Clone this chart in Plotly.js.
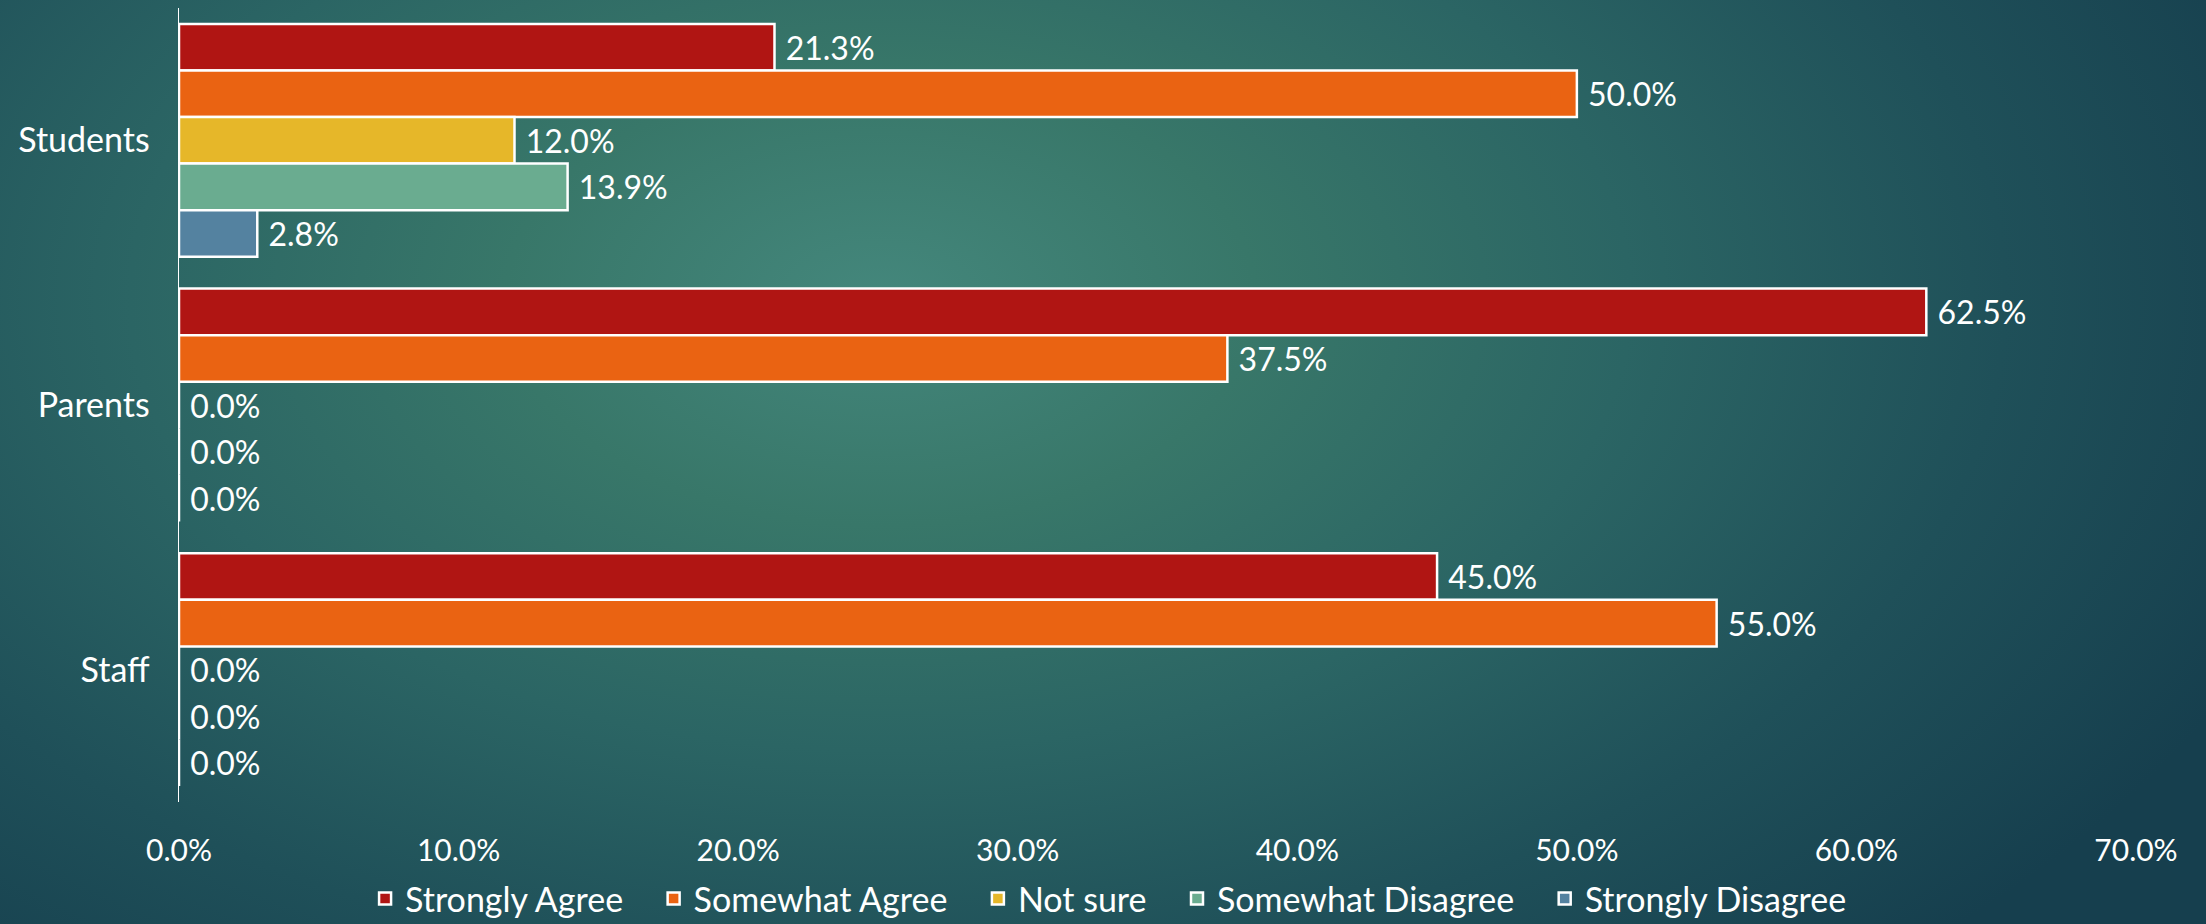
<!DOCTYPE html>
<html>
<head>
<meta charset="utf-8">
<script src="https://cdn.plot.ly/plotly-3.0.1.min.js"></script>
<style>
  html, body { margin: 0; padding: 0; width: 2206px; height: 924px; overflow: hidden; }
  body {
    background:
      radial-gradient(ellipse 1500px 900px at 880px 300px,
        #44877c 0%, #387769 25%, #2b6564 50%, #1f5059 75%, #163f4e 100%);
  }
  #chart { width: 2206px; height: 924px; }
</style>
</head>
<body>
<div id="chart"></div>
<script>
const categories = ["Students", "Parents", "Staff"];
const seriesNames = ["Strongly Agree", "Somewhat Agree", "Not sure", "Somewhat Disagree", "Strongly Disagree"];
const stronglyAgree = [0.213, 0.625, 0.45];
const somewhatAgree = [0.50, 0.375, 0.55];
const notSure = [0.12, 0.0, 0.0];
const somewhatDisagree = [0.139, 0.0, 0.0];
const stronglyDisagree = [0.028, 0.0, 0.0];
const xTickVals = [0, 0.1, 0.2, 0.3, 0.4, 0.5, 0.6, 0.7];

const seriesValues = [stronglyAgree, somewhatAgree, notSure, somewhatDisagree, stronglyDisagree];
const colors = ["#B01513", "#EA6312", "#E6B729", "#6AAC90", "#5482A0"];

const FONT = "Lato, 'Liberation Sans', sans-serif";
const LEGEND_SPACER = "\u2003";

const traces = seriesValues.map((vals, i) => ({
  type: "bar",
  orientation: "h",
  name: seriesNames[i] + (i < seriesNames.length - 1 ? LEGEND_SPACER : ""),
  y: categories,
  x: vals,
  marker: { color: colors[i], line: { color: "#ffffff", width: 2.5 } },
  texttemplate: "\u00a0%{x:.1%}",
  textposition: "outside",
  constraintext: "none",
  cliponaxis: false,
  textfont: { color: "#ffffff", size: 32, family: FONT },
  hoverinfo: "skip"
}));

const layout = {
  width: 2206,
  height: 924,
  paper_bgcolor: "rgba(0,0,0,0)",
  plot_bgcolor: "rgba(0,0,0,0)",
  margin: { l: 179, r: 70, t: 8, b: 122, pad: 0, autoexpand: false },
  barmode: "group",
  bargap: 0.12,
  bargroupgap: 0,
  font: { family: FONT, color: "#ffffff", size: 30 },
  showlegend: true,
  legend: {
    orientation: "h",
    x: 0.475, xanchor: "center",
    y: -0.122, yanchor: "middle",
    font: { size: 34, color: "#ffffff", family: FONT },
    itemwidth: 30,
    bgcolor: "rgba(0,0,0,0)",
    traceorder: "normal"
  },
  xaxis: {
    range: [0, 0.7],
    tickvals: xTickVals,
    tickformat: ".1%",
    showgrid: false,
    zeroline: false,
    showline: false,
    ticks: "",
    ticklabelstandoff: 28,
    tickfont: { size: 30, color: "#ffffff", family: FONT },
    fixedrange: true
  },
  yaxis: {
    type: "category",
    categoryarray: categories,
    autorange: "reversed",
    showgrid: false,
    zeroline: false,
    showline: true,
    linecolor: "#ffffff",
    linewidth: 1.5,
    ticks: "",
    ticklabelstandoff: 21,
    tickfont: { size: 34, color: "#ffffff", family: FONT },
    fixedrange: true
  }
};

Plotly.newPlot("chart", traces, layout, { displayModeBar: false, staticPlot: true });
</script>
</body>
</html>
